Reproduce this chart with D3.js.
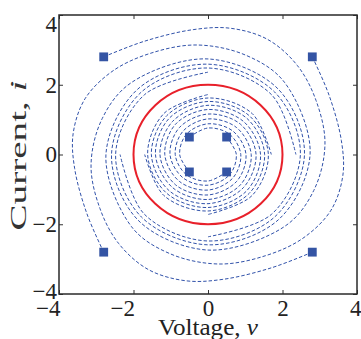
<!DOCTYPE html>
<html>
<head>
<meta charset="utf-8">
<script src="https://cdn.jsdelivr.net/npm/d3@7"></script>
<style>
  body { margin: 0; background: #fff; }
  svg { display: block; }
  .tick text { font-family: "Liberation Serif", serif; font-size: 23px; fill: #222; }
</style>
</head>
<body>
<div class="svgcontainer"></div>
<script>
// trajectories, [voltage, current], clockwise from the start square
const outerTL = [[-2.80, 2.80], [-1.70, 3.25], [-0.40, 3.58], [0.60, 3.62], [1.60, 3.30], [2.40, 2.55], [2.90, 1.55], [3.14, 0.30], [2.84, -1.03], [2.06, -2.06], [0, -2.74], [-1.88, -1.88], [-2.59, 0], [-1.79, 1.79], [0, 2.48], [1.71, 1.71], [2.36, 0]];
const outerTR = [[2.80, 2.80], [3.25, 1.70], [3.58, 0.40], [3.62, -0.60], [3.30, -1.60], [2.55, -2.40], [1.55, -2.90], [0.30, -3.14], [-1.03, -2.84], [-2.06, -2.06], [-2.74, 0], [-1.88, 1.88], [0, 2.59], [1.79, 1.79], [2.48, 0], [1.71, -1.71], [0, -2.36]];
const outerBR = [[2.80, -2.80], [1.70, -3.25], [0.40, -3.58], [-0.60, -3.62], [-1.60, -3.30], [-2.40, -2.55], [-2.90, -1.55], [-3.14, -0.30], [-2.84, 1.03], [-2.06, 2.06], [0, 2.74], [1.88, 1.88], [2.59, 0], [1.79, -1.79], [0, -2.48], [-1.71, -1.71], [-2.36, 0]];
const outerBL = [[-2.80, -2.80], [-3.25, -1.70], [-3.58, -0.40], [-3.62, 0.60], [-3.30, 1.60], [-2.55, 2.40], [-1.55, 2.90], [-0.30, 3.14], [1.03, 2.84], [2.06, 2.06], [2.74, 0], [1.88, -1.88], [0, -2.59], [-1.79, -1.79], [-2.48, 0], [-1.71, 1.71], [0, 2.36]];

const innerTL = [[-0.50, 0.50], [0, 0.76], [0.58, 0.58], [0.88, 0], [0.67, -0.67], [0, -1.02], [-0.77, -0.77], [-1.16, 0], [-0.87, 0.87], [0, 1.29], [0.95, 0.95], [1.41, 0], [1.04, -1.04], [0, -1.52], [-1.11, -1.11], [-1.62, 0], [-1.18, 1.18], [0, 1.72]];
const innerTR = [[0.50, 0.50], [0.76, 0], [0.58, -0.58], [0, -0.88], [-0.67, -0.67], [-1.02, 0], [-0.77, 0.77], [0, 1.16], [0.87, 0.87], [1.29, 0], [0.95, -0.95], [0, -1.41], [-1.04, -1.04], [-1.52, 0], [-1.11, 1.11], [0, 1.62], [1.18, 1.18], [1.70, 0]];
const innerBR = [[0.50, -0.50], [0, -0.76], [-0.58, -0.58], [-0.88, 0], [-0.67, 0.67], [0, 1.02], [0.77, 0.77], [1.16, 0], [0.87, -0.87], [0, -1.29], [-0.95, -0.95], [-1.41, 0], [-1.04, 1.04], [0, 1.52], [1.11, 1.11], [1.62, 0], [1.18, -1.18], [0, -1.72]];
const innerBL = [[-0.50, -0.50], [-0.76, 0], [-0.58, 0.58], [0, 0.88], [0.67, 0.67], [1.02, 0], [0.77, -0.77], [0, -1.16], [-0.87, -0.87], [-1.29, 0], [-0.95, 0.95], [0, 1.41], [1.04, 1.04], [1.52, 0], [1.11, -1.11], [0, -1.62], [-1.18, -1.18], [-1.70, 0]];

const trajectories = [outerTL, outerTR, outerBR, outerBL, innerTL, innerTR, innerBR, innerBL];
const limitCycleRadius = 2;
const xTicks = [-4, -2, 0, 2, 4];
const yTicks = [-4, -2, 0, 2, 4];

const width = 361, height = 339;
const svg = d3.select(".svgcontainer").append("svg")
  .attr("width", width)
  .attr("height", height);

const x = d3.scaleLinear().domain([-4, 4]).range([59, 357]);
const y = d3.scaleLinear().domain([-4, 4]).range([294, 15]);

const line = d3.line()
  .x(d => x(d[0]))
  .y(d => y(d[1]))
  .curve(d3.curveCatmullRom.alpha(0.5));

svg.append("g")
  .selectAll("path")
  .data(trajectories)
  .join("path")
  .attr("d", line)
  .attr("fill", "none")
  .attr("stroke", "#3152aa")
  .attr("stroke-width", 1)
  .attr("stroke-dasharray", "3.5,2");

// limit cycle
svg.append("ellipse")
  .attr("cx", x(0))
  .attr("cy", y(0))
  .attr("rx", x(limitCycleRadius) - x(0))
  .attr("ry", y(0) - y(limitCycleRadius))
  .attr("fill", "none")
  .attr("stroke", "#e8202a")
  .attr("stroke-width", 2);

// start points
svg.append("g")
  .selectAll("path")
  .data(trajectories.map(t => t[0]))
  .join("path")
  .attr("transform", d => `translate(${x(d[0])},${y(d[1])})`)
  .attr("d", d3.symbol(d3.symbolSquare, 78))
  .attr("fill", "#3454a4");

// axes
const xAxis = svg.append("g")
  .attr("transform", `translate(0,${y(-4)})`)
  .call(d3.axisBottom(x).tickValues(xTicks).tickSize(-4).tickPadding(6).tickFormat(d3.format("d")));
xAxis.selectAll(".tick text")
  .attr("text-anchor", d => d < 0 ? "end" : (d === 4 ? "end" : "middle"))
  .attr("dx", d => d < 0 ? 1 : (d === 4 ? 4 : 0));

svg.append("g")
  .attr("transform", `translate(0,${y(4)})`)
  .call(d3.axisTop(x).tickValues(xTicks).tickSize(-4).tickFormat(""));

const yAxis = svg.append("g")
  .attr("transform", `translate(${x(-4)},0)`)
  .call(d3.axisLeft(y).tickValues(yTicks).tickSize(-4).tickPadding(2).tickFormat(d3.format("d")));
yAxis.selectAll(".tick text")
  .attr("dy", d => d === 4 ? "0.7em" : (d === -4 ? "0.2em" : "0.32em"));

svg.append("g")
  .attr("transform", `translate(${x(4)},0)`)
  .call(d3.axisRight(y).tickValues(yTicks).tickSize(-4).tickFormat(""));

svg.selectAll(".domain").remove();
svg.selectAll(".tick line").attr("stroke", "#333").attr("stroke-width", 1);

svg.append("rect")
  .attr("x", x(-4))
  .attr("y", y(4))
  .attr("width", x(4) - x(-4))
  .attr("height", y(-4) - y(4))
  .attr("fill", "none")
  .attr("stroke", "#2a2a2a")
  .attr("stroke-width", 1.5);

// axis titles
const xl = svg.append("text")
  .attr("x", x(0))
  .attr("y", 335)
  .attr("text-anchor", "middle")
  .attr("textLength", 100)
  .attr("lengthAdjust", "spacingAndGlyphs")
  .style("font-family", "Liberation Serif, serif")
  .style("font-size", "23px")
  .attr("fill", "#222");
xl.append("tspan").text("Voltage, ");
xl.append("tspan").style("font-style", "italic").text("v");

const yl = svg.append("text")
  .attr("transform", `translate(26,${y(0) + 1}) rotate(-90)`)
  .attr("text-anchor", "middle")
  .attr("textLength", 150)
  .attr("lengthAdjust", "spacingAndGlyphs")
  .style("font-family", "Liberation Serif, serif")
  .style("font-size", "24px")
  .attr("fill", "#333");
yl.append("tspan").text("Current, ");
yl.append("tspan").style("font-style", "italic").text("i");
</script>
</body>
</html>
